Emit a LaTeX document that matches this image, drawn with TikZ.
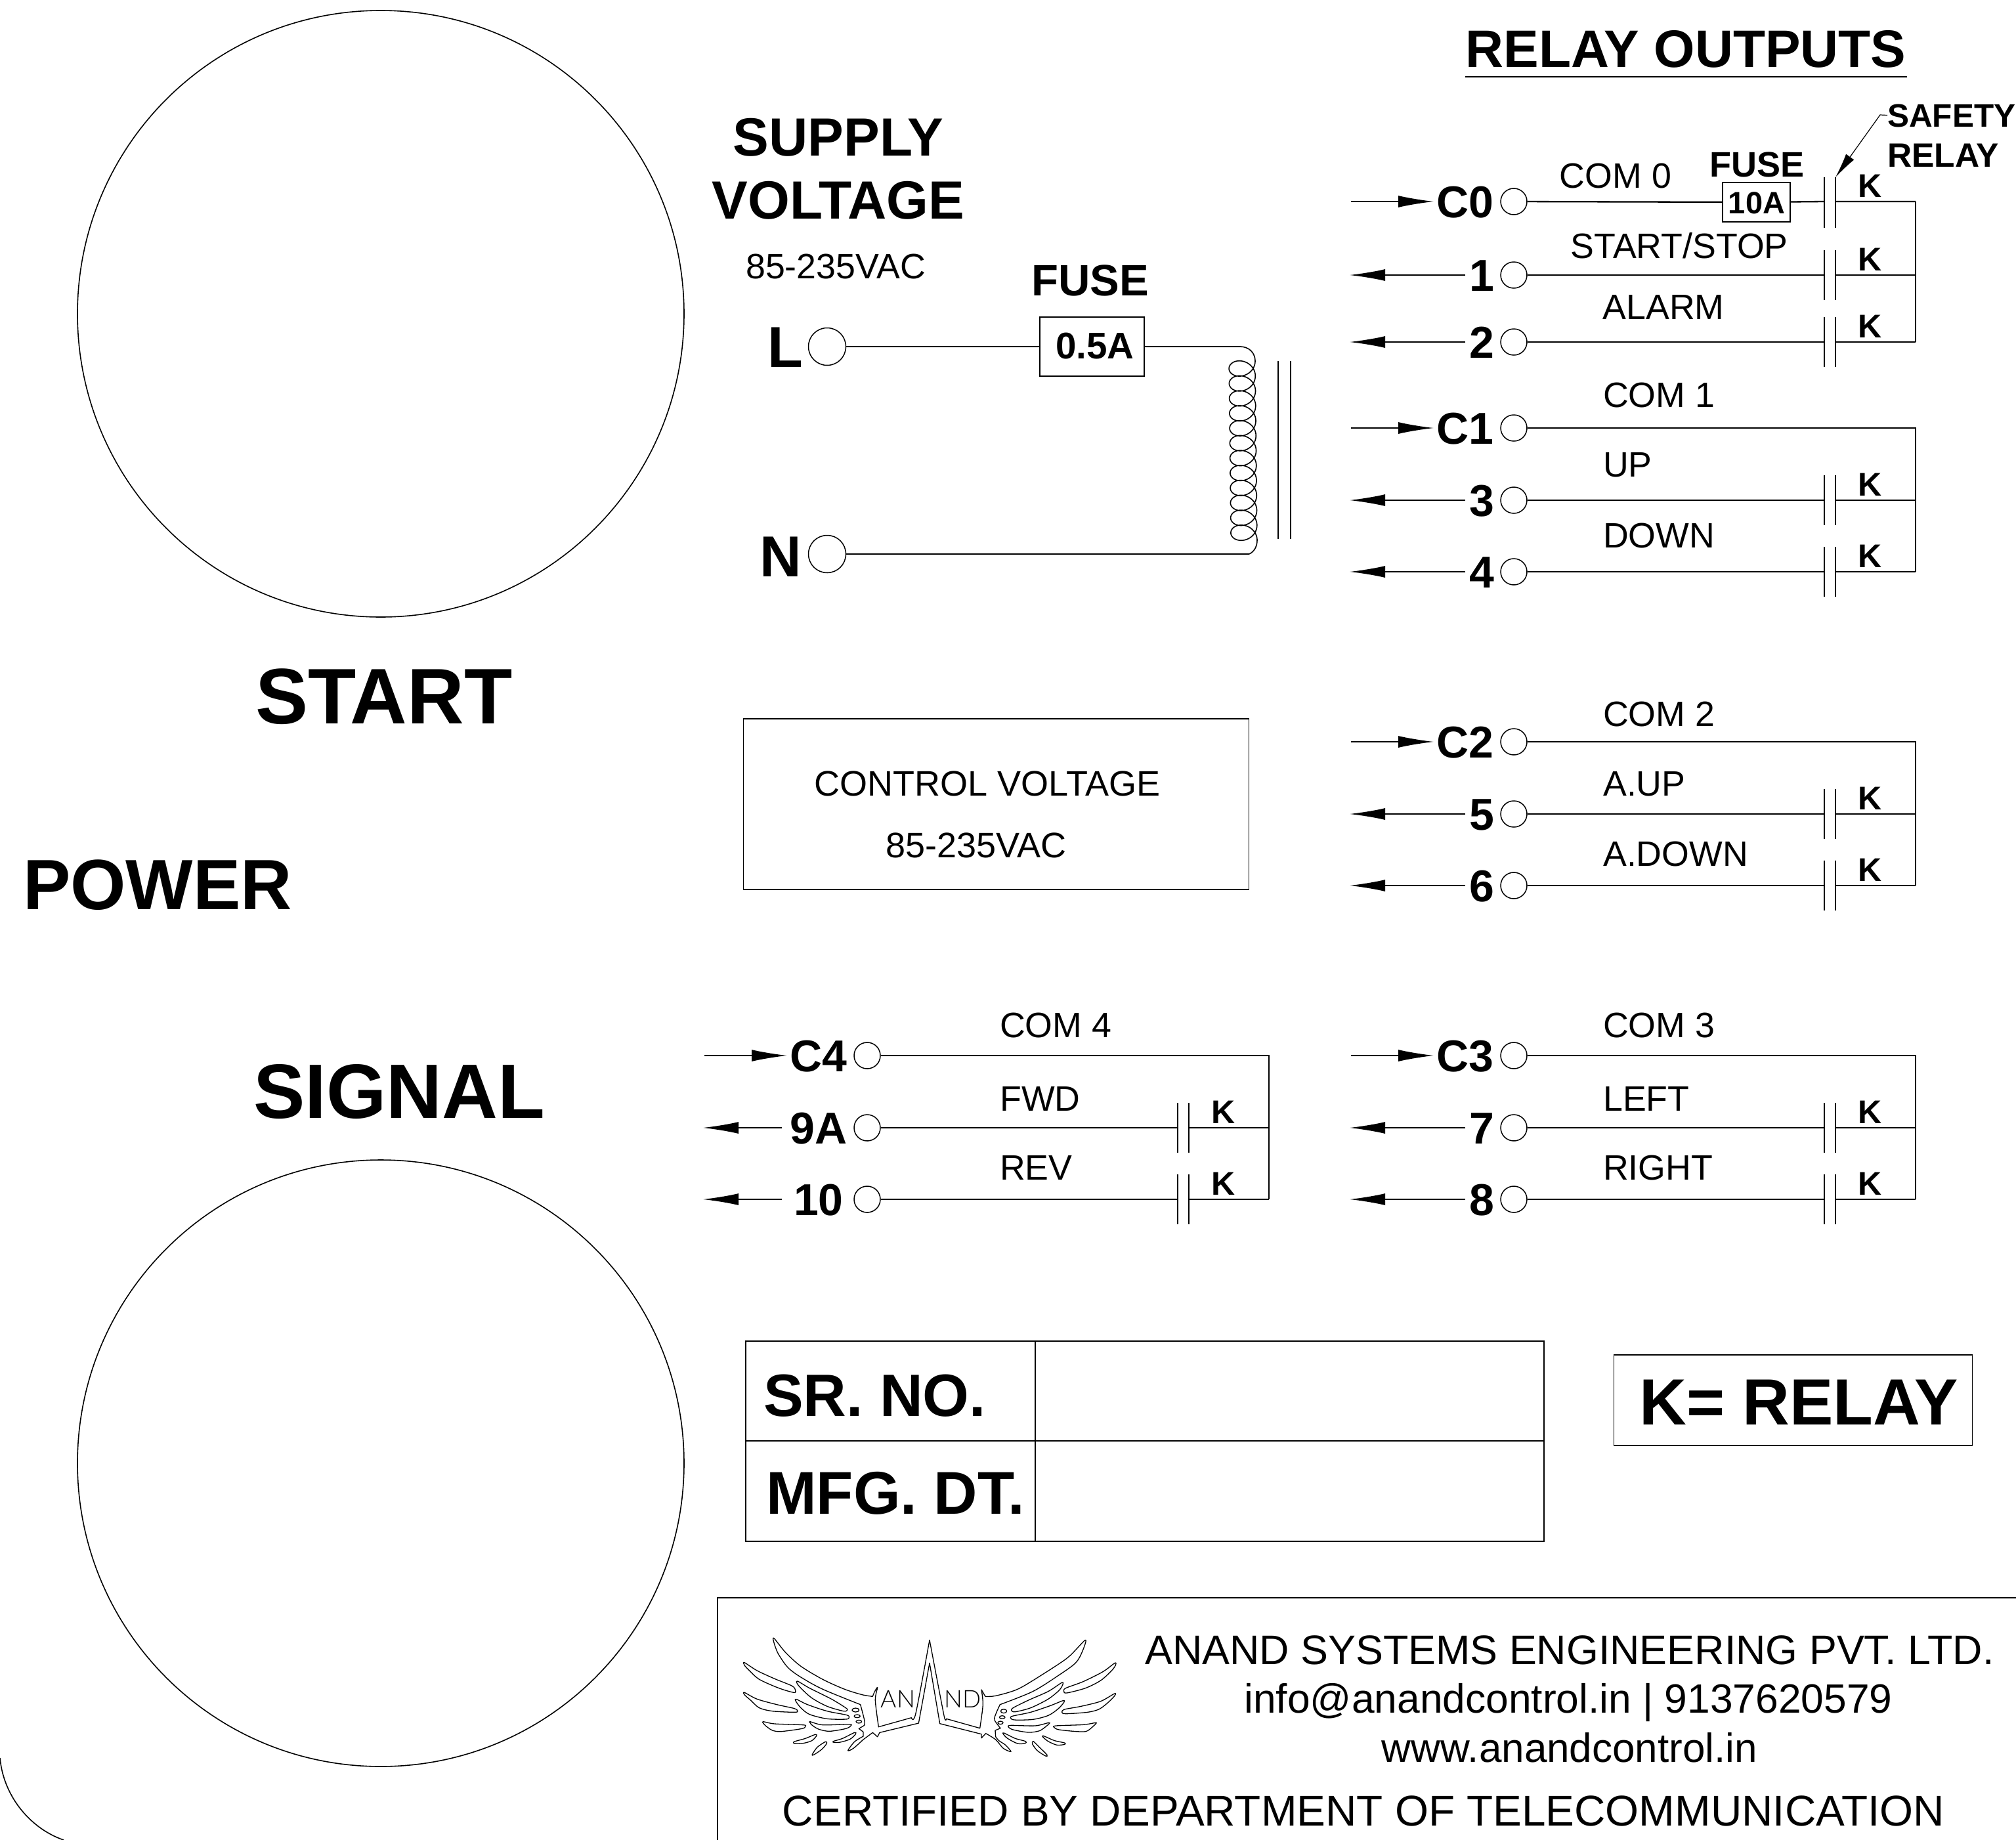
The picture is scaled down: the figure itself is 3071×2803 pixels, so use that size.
\documentclass[tikz,border=0pt]{standalone}
\usepackage{fontspec}
\setmainfont{Liberation Sans}
\newfontfamily\logofont{Lato Light}
\usetikzlibrary{arrows.meta}
\newcommand\fsz[1]{\fontsize{#1}{#1}\selectfont}
\tikzset{
  thinln/.style={line width=1.6pt,black},
  wire/.style={line width=2.3pt,black},
  lab/.style={font=\fsz{#1},inner sep=0pt,text depth=0pt,text height={0.716*#1 pt}},
  blab/.style={font=\fsz{#1}\bfseries,inner sep=0pt,text depth=0pt,text height={0.716*#1 pt}},
  term/.style={circle,draw,line width=1.5pt,minimum size=40pt,inner sep=0pt},
  bigterm/.style={circle,draw,line width=1.5pt,minimum size=57pt,inner sep=0pt},
  boxed/.style={draw,line width=1.6pt,inner sep=0pt},
  inarrow/.style={line width=1.5pt,-{Latex[length=54pt,width=18pt]}},
  logoln/.style={line width=1.3pt,line join=round},
  feather/.style={logoln}
}
% name, dx, y, label
\newcommand\inrow[4]{%
  \node[term] (t#1) at ({2306+#2},#3) {};
  \node[blab=68,anchor=east] (l#1) at ({2276+#2},#3) {#4};
  \coordinate (a#1) at ({2058+#2},#3);
  \coordinate (e#1) at ({2184+#2},#3);
  \coordinate (b#1) at ({2918+#2},#3);
  \draw[inarrow] (a#1) -- (e#1);
}
% name, dx, y, label, stem end x, label right edge
\newcommand\outrowx[6]{%
  \node[term] (t#1) at ({2306+#2},#3) {};
  \node[blab=68,anchor=east] (l#1) at (#6,#3) {#4};
  \coordinate (a#1) at ({2056+#2},#3);
  \coordinate (s#1) at (#5,#3);
  \coordinate (b#1) at ({2918+#2},#3);
  \coordinate (p#1) at ({2779+#2},#3);
  \coordinate (q#1) at ({2796+#2},#3);
  \draw[inarrow] (s#1) -- (a#1);
  \draw[wire] (t#1) -- (p#1) (q#1) -- (b#1);
  \draw[thinln] ({2779+#2},{#3-38}) -- ({2779+#2},{#3+38}) ({2796+#2},{#3-38}) -- ({2796+#2},{#3+38});
  \node[blab=50] (k#1) at ({2849+#2},{#3-24}) {K};
}
\newcommand\outrow[5]{\outrowx{#1}{#2}{#3}{#4}{#5}{{2276+#2}}}
\begin{document}
\begin{tikzpicture}[x=1pt,y=-1pt]
\useasboundingbox (0,0) rectangle (3071,2803);
\fill[white] (0,0) rectangle (3071,2803);
% dials
\node[circle,draw,line width=1.6pt,minimum size=924pt,inner sep=0pt] (dialA) at (580,478) {};
\node[circle,draw,line width=1.6pt,minimum size=924pt,inner sep=0pt] (dialB) at (580,2229) {};
\node[blab=120] (start) at (585,1060) {START};
\node[blab=108.5] (power) at (240,1347) {POWER};
\node[blab=117.5] (signal) at (608,1661) {SIGNAL};
% heading
\node[blab=80.3] (relayout) at (2568,74) {RELAY OUTPUTS};
\coordinate (ulA) at (2232,117); \coordinate (ulB) at (2905,117);
\draw[thinln] (ulA) -- (ulB);
% supply
\node[blab=82] (supply) at (1277,208) {SUPPLY};
\node[blab=82] (voltage) at (1277,304) {VOLTAGE};
\node[lab=53.7] (range) at (1273,405) {85-235VAC};
\node[blab=67] (fuselab) at (1661,427) {FUSE};
\node[blab=88,anchor=east] (Ltxt) at (1223,528) {L};
\node[blab=88,anchor=east] (Ntxt) at (1221,847) {N};
\node[bigterm] (Lt) at (1260,528) {};
\node[bigterm] (Nt) at (1260,844) {};
\node[boxed,minimum width=159pt,minimum height=90pt] (fuseA) at (1663.5,528) {};
\node[blab=56.5] (fuseAtxt) at (1668,526) {0.5A};
\coordinate (coilin) at (1889,528);
\coordinate (coilout) at (1903,844);
\draw[wire] (Lt) -- (fuseA);
\draw[wire] (fuseA) -- (coilin);
\draw[wire] (Nt) -- (coilout);
\draw[thinln] (coilin) .. controls (1903,528) and (1912,538) .. (1912,550);
\draw[thinln] (1915,823) .. controls (1915,832) and (1911,840) .. (coilout);
\draw[thinln,line join=round] plot[domain=0:75.398,samples=700,variable=\t]
  ({1892+\t*0.04+20*cos(\t r)},{550+3.62*\t+17*sin(\t r)});
\draw[thinln] (1947,550) -- (1947,821) (1966,550) -- (1966,821);
% control voltage
\node[boxed,minimum width=770pt,minimum height=260pt] (ctrl) at (1517.5,1225) {};
\node[lab=54] (ctrlA) at (1504,1193) {CONTROL VOLTAGE};
\node[lab=54] (ctrlB) at (1487,1287) {85-235VAC};
% group 0
\inrow{c0}{0}{307}{C0}
\outrow{o1}{0}{419}{1}{2232}
\outrow{o2}{0}{521}{2}{2232}
\coordinate (p0) at (2779,307); \coordinate (q0) at (2796,307);
\draw[thinln] (2779,270) -- (2779,347) (2796,270) -- (2796,347);
\node[blab=50] (k0) at (2849,283) {K};
\node[boxed,minimum width=103pt,minimum height=60pt] (fuseB) at (2675.5,308) {};
\node[blab=47] (fuseBt) at (2676,309) {10A};
\node[blab=54] (fuseBl) at (2676,250) {FUSE};
\draw[wire] (tc0) -- (fuseB);
\draw[wire] (fuseB) -- (p0) (q0) -- (bc0);
\draw[wire] (bc0) -- (bo2);
\node[blab=49.5,anchor=west] (safety) at (2875,175.5) {SAFETY};
\node[blab=51.5,anchor=west] (srelay) at (2875,236.5) {RELAY};
\coordinate (srtip) at (2796,270);
\draw[line width=1.2pt,-{Latex[length=38pt,width=15pt]}] (safety.west) -- (2864,175) -- (srtip);
\node[lab=53.7] (com0) at (2461,267) {COM 0};
\node[lab=53.7] (cstart) at (2558,374) {START/STOP};
\node[lab=53.7] (calarm) at (2534,467) {ALARM};
% group 1
\inrow{c1}{0}{652}{C1}
\outrow{o3}{0}{762}{3}{2232}
\outrow{o4}{0}{871}{4}{2232}
\draw[wire] (tc1) -- (bc1) -- (bo4);
\node[lab=53.7,anchor=west] (com1) at (2442,601) {COM 1};
\node[lab=53.7,anchor=west] (cup) at (2442,707) {UP};
\node[lab=53.7,anchor=west] (cdown) at (2442,815) {DOWN};
% group 2
\inrow{c2}{0}{1130}{C2}
\outrow{o5}{0}{1240}{5}{2232}
\outrow{o6}{0}{1349}{6}{2232}
\draw[wire] (tc2) -- (bc2) -- (bo6);
\node[lab=53.7,anchor=west] (com2) at (2442,1087) {COM 2};
\node[lab=53.7,anchor=west] (caup) at (2442,1193) {A.UP};
\node[lab=53.7,anchor=west] (cadown) at (2442,1300) {A.DOWN};
% group 3
\inrow{c3}{0}{1608}{C3}
\outrow{o7}{0}{1718}{7}{2232}
\outrow{o8}{0}{1827}{8}{2232}
\draw[wire] (tc3) -- (bc3) -- (bo8);
\node[lab=53.7,anchor=west] (com3) at (2442,1561) {COM 3};
\node[lab=53.7,anchor=west] (cleft) at (2442,1673) {LEFT};
\node[lab=53.7,anchor=west] (cright) at (2442,1778) {RIGHT};
% group 4
\inrow{c4}{-985}{1608}{C4}
\outrow{o9}{-985}{1718}{9A}{1191}
\outrowx{o10}{-985}{1827}{10}{1191}{1285}
\draw[wire] (tc4) -- (bc4) -- (bo10);
\node[lab=53.7,anchor=west] (com4) at (1523,1561) {COM 4};
\node[lab=53.7,anchor=west] (cfwd) at (1523,1673) {FWD};
\node[lab=53.7,anchor=west] (crev) at (1523,1778) {REV};
% table
\node[boxed,minimum width=1216pt,minimum height=305pt] (table) at (1744,2195.5) {};
\draw[thinln] (1136,2195) -- (2352,2195) (1577,2043) -- (1577,2348);
\node[blab=91,anchor=west] (srno) at (1163,2125) {SR. NO.};
\node[blab=92,anchor=west] (mfg) at (1167,2274) {MFG. DT.};
\node[boxed,minimum width=546pt,minimum height=138pt] (kbox) at (2731.5,2133) {};
\node[blab=99.5] (ktxt) at (2740,2135) {K= RELAY};
% bottom frame
\draw[thinln] (1093,2803) -- (1093,2434) -- (3071,2434);
\draw[thinln] (0,2678) .. controls (5,2735) and (45,2785) .. (97,2803);
% company
\node[lab=62.8] (coA) at (2391,2513) {ANAND SYSTEMS ENGINEERING PVT. LTD.};
\node[lab=62.3] (coB) at (2389,2587) {info@anandcontrol.in | 9137620579};
\node[lab=62] (coC) at (2391,2662) {www.anandcontrol.in};
\node[lab=65.6] (coD) at (2077,2758) {CERTIFIED BY DEPARTMENT OF TELECOMMUNICATION};
% logo
\begin{scope}[shift={(1120,2480)},x=0.33333pt,y=-0.33333pt]
\draw[logoln] plot[smooth,tension=.5] coordinates {(888,160)(838,435)} -- (660,478) -- (650,497) -- (628,478) -- (585,510)
 -- plot[smooth,tension=.5] coordinates {(585,510)(540,550)(515,560)(545,520)(585,495)} -- (585,475) -- (565,460) -- (590,445)
 -- plot[smooth,tension=.5] coordinates {(590,445)(590,420)(572,350)} 
 -- plot[smooth,tension=.5] coordinates {(572,350)(400,280)(300,225)(240,180)(195,115)(175,60)(178,48)(230,112)(300,175)(400,235)(500,280)(580,305)(628,313)}
 -- plot[smooth,tension=.5] coordinates {(628,313)(635,295)(650,272)(640,330)(655,452)}
 -- (805,410) -- plot[smooth,tension=.5] coordinates {(805,410)(825,390)(888,55)}
 -- plot[smooth,tension=.3] coordinates {(888,55)(955,405)(965,415)} -- (1118,458)
 -- plot[smooth,tension=.5] coordinates {(1118,458)(1132,350)(1125,282)} -- (1143,313)
 -- plot[smooth,tension=.5] coordinates {(1143,313)(1190,310)(1290,280)(1400,215)(1520,135)(1600,55)(1585,110)(1555,160)(1480,215)(1360,290)(1210,350)}
 -- plot[smooth,tension=.5] coordinates {(1210,350)(1192,390)(1185,420)(1212,458)} -- (1188,468) -- (1190,497)
 -- plot[smooth,tension=.5] coordinates {(1190,497)(1205,515)(1235,535)(1260,565)(1225,550)(1190,510)(1145,482)} -- (1125,503) -- (1125,485) -- (935,437) -- (888,160) -- cycle;
\foreach \pts in {
 {(42,158)(100,195)(180,232)(260,265)(275,285)(268,295)(200,275)(110,235)(65,195)(42,170)},
 {(42,295)(100,325)(190,350)(270,368)(285,380)(270,385)(170,380)(110,365)(70,330)(42,305)},
 {(128,428)(180,438)(310,443)(320,450)(305,460)(210,473)(170,468)(140,448)(128,435)},
 {(285,243)(340,275)(440,325)(505,365)(512,375)(495,380)(420,358)(350,320)(300,275)(282,252)},
 {(278,325)(330,350)(420,380)(510,398)(520,410)(505,417)(420,415)(340,395)(300,365)(277,335)},
 {(342,428)(400,443)(520,440)(528,447)(505,460)(430,472)(380,462)(350,443)(342,433)},
 {(268,520)(320,505)(365,487)(372,492)(350,515)(310,527)(272,528)},
 {(352,578)(375,545)(412,520)(418,528)(395,555)(358,580)},
 {(448,518)(490,505)(545,478)(550,485)(525,508)(480,522)(452,523)}}
 {\draw[feather] plot[smooth cycle,tension=.5] coordinates \pts;}
\draw[feather] (550,375) ellipse [x radius=16,y radius=9];
\draw[feather] (557,403) ellipse [x radius=14,y radius=7];
\draw[feather] (565,428) ellipse [x radius=13,y radius=7];
\end{scope}
\begin{scope}[shift={(1400,2480)},x=0.33333pt,y=-0.33333pt]
\foreach \pts in {
 {(895,160)(840,200)(750,245)(670,275)(662,290)(675,297)(760,275)(830,240)(880,195)(898,170)},
 {(893,300)(830,335)(740,358)(665,372)(653,385)(670,392)(770,385)(825,370)(870,335)(895,308)},
 {(807,433)(750,442)(625,447)(618,455)(640,465)(720,473)(765,472)(795,450)(808,437)},
 {(652,250)(590,290)(500,330)(430,365)(423,378)(440,383)(510,365)(590,325)(640,285)(657,258)},
 {(658,332)(600,355)(510,385)(430,402)(418,410)(435,420)(520,418)(590,400)(635,370)(662,340)},
 {(592,433)(530,447)(420,445)(408,452)(430,465)(500,477)(550,470)(580,450)(595,437)},
 {(568,493)(620,515)(665,525)(665,532)(630,535)(590,518)(566,498)},
 {(522,518)(550,545)(585,580)(578,585)(540,560)(518,530)},
 {(388,480)(440,505)(487,518)(485,527)(450,528)(405,505)(385,485)}}
 {\draw[feather] plot[smooth cycle,tension=.5] coordinates \pts;}
\draw[feather] (387,380) ellipse [x radius=14,y radius=9];
\draw[feather] (380,408) ellipse [x radius=13,y radius=7];
\draw[feather] (372,433) ellipse [x radius=12,y radius=7];
\end{scope}
\node[font=\fsz{37}\logofont,inner sep=0pt] (logoAN) at (1368,2588) {AN};
\node[font=\fsz{37}\logofont,inner sep=0pt] (logoND) at (1467,2588) {ND};
\end{tikzpicture}
\end{document}
